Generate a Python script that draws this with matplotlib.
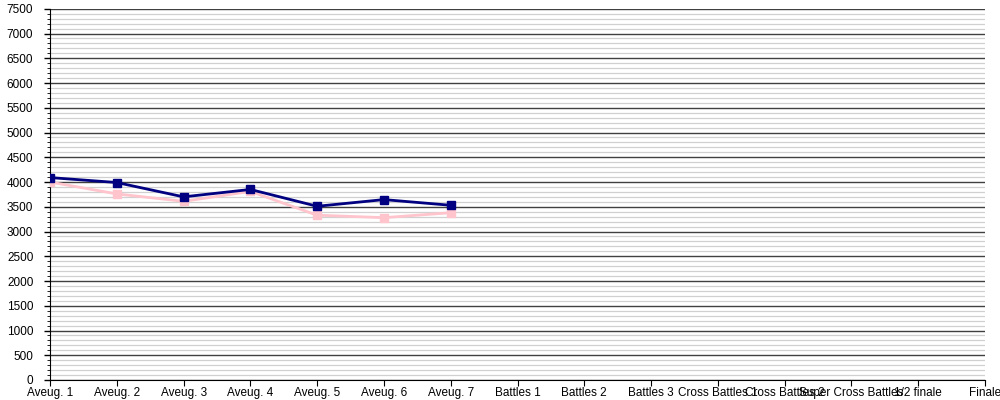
import matplotlib
matplotlib.use('Agg')
import matplotlib.pyplot as plt
import numpy as np

categories = ['Aveug. 1', 'Aveug. 2', 'Aveug. 3', 'Aveug. 4', 'Aveug. 5', 'Aveug. 6', 'Aveug. 7',
              'Battles 1', 'Battles 2', 'Battles 3', 'Cross Battles 1', 'Cross Battles 2',
              'Super Cross Battles', '1/2 finale', 'Finale']
blue_values = [4090, 3990, 3700, 3850, 3510, 3645, 3530]
pink_values = [4000, 3760, 3610, 3810, 3330, 3280, 3380]

plt.rcParams['font.family'] = ['Liberation Sans', 'DejaVu Sans']

fig = plt.figure(figsize=(10, 4), dpi=100)
ax = fig.add_axes([0.05, 0.05, 0.935, 0.928])

x = np.arange(len(categories))
ax.plot(x[:len(pink_values)], pink_values, color='#FFC4CC', linewidth=2,
        marker='s', markersize=6, zorder=3)
ax.plot(x[:len(blue_values)], blue_values, color='#000080', linewidth=2,
        marker='s', markersize=6, zorder=4)

ax.set_xlim(0, len(categories) - 1)
ax.set_ylim(0, 7500)
ax.set_xticks(x)
ax.set_xticklabels(categories, fontsize=8.5)
ax.set_yticks(np.arange(0, 7501, 500))
ax.set_yticks(np.arange(0, 7501, 100), minor=True)
ax.tick_params(axis='y', labelsize=8.5, length=4, width=1, pad=8)
ax.tick_params(axis='y', which='minor', length=2)
ax.tick_params(axis='x', length=4, pad=1)

ax.grid(which='minor', axis='y', color='#D0D0D0', linewidth=0.9)
ax.grid(which='major', axis='y', color='#404040', linewidth=1)
ax.set_axisbelow(True)

for s in ['top', 'right']:
    ax.spines[s].set_visible(False)
ax.spines['left'].set_color('black')
ax.spines['bottom'].set_color('black')

fig.savefig('out.png', dpi=100)
